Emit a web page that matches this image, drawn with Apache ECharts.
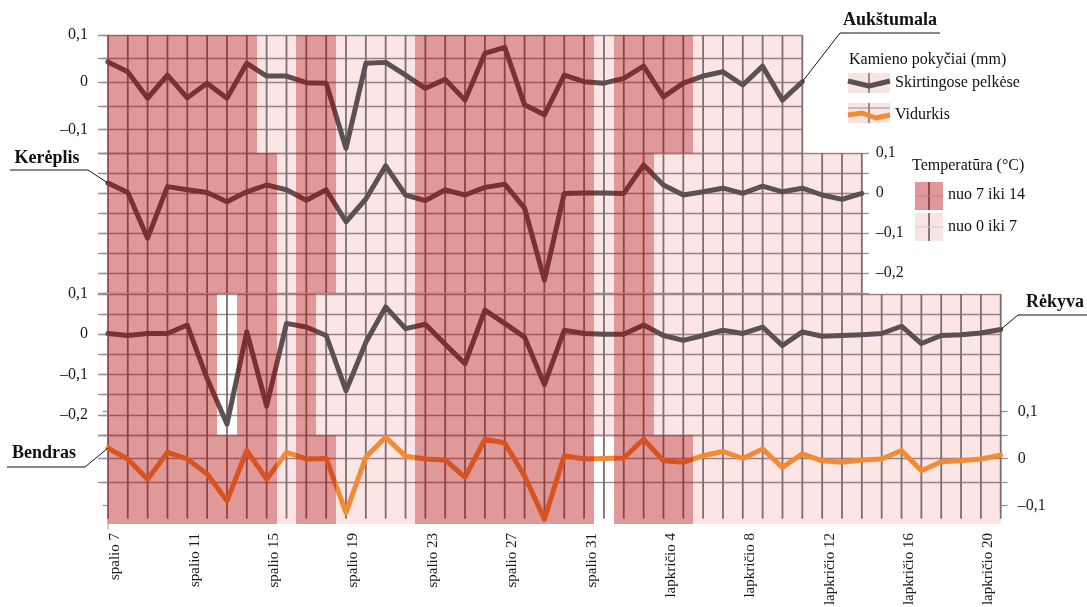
<!DOCTYPE html>
<html><head><meta charset="utf-8">
<script src="https://cdn.jsdelivr.net/npm/echarts@6/dist/echarts.min.js"></script>
<style>html,body{margin:0;padding:0;background:#fff}#c{width:1087px;height:607px}</style>
</head><body><div id="c"></div>
<script>
// ---- data ----
const days = [];
for (let d = 7; d <= 31; d++) days.push('spalio ' + d);
for (let d = 1; d <= 21; d++) days.push('lapkričio ' + d);
const tickDays = [0, 4, 8, 12, 16, 20, 24, 28, 32, 36, 40, 44];

const aukstumala = [0.043, 0.022, -0.034, 0.015, -0.033, -0.002, -0.034, 0.040, 0.013, 0.013, -0.001, -0.002, -0.140, 0.040, 0.042, 0.015, -0.013, 0.006, -0.038, 0.061, 0.074, -0.048, -0.069, 0.015, 0.001, -0.002, 0.008, 0.034, -0.031, -0.002, 0.013, 0.022, -0.006, 0.034, -0.038, 0.001];
const kereplis = [0.025, 0.001, -0.113, 0.016, 0.008, 0.001, -0.022, 0.003, 0.020, 0.008, -0.018, 0.008, -0.072, -0.015, 0.068, -0.005, -0.019, 0.008, -0.005, 0.014, 0.022, -0.038, -0.218, -0.001, 0, 0, -0.001, 0.070, 0.020, -0.005, 0.003, 0.012, -0.001, 0.017, 0.003, 0.012, -0.005, -0.016, -0.001];
const rekyva = [0.002, -0.003, 0.002, 0.002, 0.023, -0.110, -0.223, 0.006, -0.178, 0.027, 0.018, -0.003, -0.140, -0.020, 0.068, 0.014, 0.025, -0.025, -0.073, 0.060, 0.027, -0.007, -0.125, 0.010, 0.002, 0, 0, 0.023, -0.003, -0.015, -0.003, 0.010, 0.002, 0.018, -0.028, 0.006, -0.005, -0.003, -0.001, 0.002, 0.020, -0.023, -0.003, -0.001, 0.003, 0.012];
const bendras = [0.022, -0.001, -0.044, 0.013, -0.001, -0.033, -0.090, 0.017, -0.044, 0.013, -0.001, 0, -0.115, 0.003, 0.045, 0.005, -0.001, -0.003, -0.040, 0.041, 0.033, -0.037, -0.129, 0.006, -0.001, 0, 0.001, 0.041, -0.005, -0.008, 0.006, 0.015, 0, 0.020, -0.019, 0.010, -0.005, -0.008, -0.003, -0.001, 0.017, -0.026, -0.007, -0.005, -0.001, 0.007];

// temperature class per day: 2 = 7..14 °C, 1 = 0..7 °C, 0 = none
const aukstumalaTemp = [2,2,2,2,2,2,2,2, 1,1, 2,2, 1,1,1,1, 2,2,2,2,2,2,2,2,2, 1, 2,2,2,2, 1,1,1,1,1,1];
const kereplisTemp   = [2,2,2,2,2,2,2,2,2, 1, 2,2, 1,1,1,1, 2,2,2,2,2,2,2,2,2, 1, 2,2, 1,1,1,1,1,1,1,1,1,1,1];
const rekyvaTemp     = [2,2,2,2,2,2, 0, 2,2, 1, 2, 1,1,1,1,1, 2,2,2,2,2,2,2,2,2, 1, 2,2, 1,1,1,1,1,1,1,1,1,1,1,1,1,1,1,1,1,1];
const bendrasTemp    = [2,2,2,2,2,2,2,2,2, 1, 2,2, 1,1,1,1, 2,2,2,2,2,2,2,2,2, 0, 2,2,2,2, 1,1,1,1,1,1,1,1,1,1,1,1,1,1,1,1];

// ---- layout / style ----
const S = 19.84, L = 98;
const FONT = '"Liberation Serif", "DejaVu Serif", serif';
const DARK = 'rgba(178,0,0,0.40)', LIGHT = 'rgba(215,0,0,0.10)';
const VGRID = '#7a6f71', HGRID = '#9a8f91', AXIS = '#c6bebf';
const panels = [
  {data: aukstumala, temp: aukstumalaTemp, color: '#5b5053', top: 35,    min: -0.15, max: 0.1, ppu: 472,    bandTop: 0.1,  bandBottom: -0.15, lineBottom: -0.15, side: 'left',  rMargin: 14},
  {data: kereplis,   temp: kereplisTemp,   color: '#5b5053', top: 153,   min: -0.25, max: 0.1, ppu: 400,    bandTop: 0.1,  bandBottom: -0.25, lineBottom: -0.25, side: 'right', rMargin: 14},
  {data: rekyva,     temp: rekyvaTemp,     color: '#5b5053', top: 294,   min: -0.25, max: 0.1, ppu: 402.86, bandTop: 0.1,  bandBottom: -0.25, lineBottom: -0.25, side: 'left',  rMargin: 14},
  {data: bendras,    temp: bendrasTemp,    color: '#f28a36', top: 411.5, min: -0.15, max: 0.1, ppu: 470,    bandTop: 0.05, bandBottom: -0.14, lineBottom: -0.128, side: 'right', rMargin: 17,
   ticks: [0.1, 0.05, 0, -0.05, -0.1]}
];

function fmt(v) {
  const k = Math.round(v * 20);
  if (k % 2 !== 0) return '';
  const n = Math.round(v * 10);
  if (n === 0) return '0';
  return (n < 0 ? '–' : '') + '0,' + Math.abs(n);
}

const grid = [], xAxis = [], yAxis = [], series = [];
panels.forEach((p, k) => {
  const last = p.data.length - 1;
  grid.push({left: L, top: p.top, width: (last + 0.5) * S, height: (p.max - p.min) * p.ppu, containLabel: false, outerBoundsMode: 'none'});
  xAxis.push({
    type: 'value', gridIndex: k, min: -0.5, max: last, show: k === 3,
    axisLine: {show: false}, axisTick: {show: false}, splitLine: {show: false},
    axisLabel: {show: k === 3, customValues: tickDays, rotate: 90, margin: 4, verticalAlign: 'top',
      formatter: v => days[Math.round(v)] || '', fontFamily: FONT, fontSize: 15, color: '#1a1a1a'}
  });
  const tickL = {show: true, length: 5, lineStyle: {color: HGRID, width: 1.3}};
  const tickR = {show: p.side === 'right', length: 7, lineStyle: {color: HGRID, width: 1.3}};
  if (p.ticks) { tickL.customValues = p.ticks; tickR.customValues = p.ticks; }
  yAxis.push({
    type: 'value', gridIndex: k, position: 'left', min: p.min, max: p.max, interval: 0.05,
    axisLine: {show: true, lineStyle: {color: AXIS, width: 1.5}},
    axisTick: tickL,
    axisLabel: {show: p.side === 'left', formatter: fmt, margin: 10, fontFamily: FONT, fontSize: 16, color: '#1a1a1a'},
    splitLine: {show: true, showMinLine: k !== 3, showMaxLine: k !== 3, lineStyle: {color: HGRID, width: 1.3}}
  });
  yAxis.push({
    type: 'value', gridIndex: k, position: 'right', min: p.min, max: p.max, interval: 0.05,
    axisLine: {show: false},
    axisTick: tickR,
    axisLabel: {show: p.side === 'right', formatter: fmt, margin: p.rMargin, align: 'left', fontFamily: FONT, fontSize: 16, color: '#1a1a1a'},
    splitLine: {show: false}
  });
  const td = p.temp.map((t, i) => [i, t]);
  const band = level => (params, api) => {
    const d = api.value(0), t = api.value(1);
    if (t !== level) return null;
    const a = api.coord([Math.max(d - 0.5, 0), p.bandTop]);
    const b = api.coord([Math.min(d + 0.5, last), p.bandBottom]);
    const x0 = Math.round(a[0]), x1 = Math.round(b[0]), y0 = Math.round(a[1]), y1 = Math.round(b[1]);
    return {type: 'rect', shape: {x: x0, y: y0, width: x1 - x0, height: y1 - y0}, style: {fill: level === 2 ? DARK : LIGHT}};
  };
  // light temperature bands (below lines)
  series.push({type: 'custom', xAxisIndex: k, yAxisIndex: 2 * k, z: 1, silent: true, data: td, renderItem: band(1)});
  // vertical day grid lines
  series.push({
    type: 'custom', xAxisIndex: k, yAxisIndex: 2 * k, z: 1, silent: true, data: td,
    renderItem: (params, api) => {
      const d = api.value(0);
      const a = api.coord([d, p.bandTop]), b = api.coord([d, p.lineBottom]);
      return {type: 'line', shape: {x1: a[0], y1: a[1], x2: b[0], y2: b[1]}, style: {stroke: VGRID, lineWidth: 1.8}};
    }
  });
  // measured line
  series.push({
    type: 'line', xAxisIndex: k, yAxisIndex: 2 * k, z: 2, symbol: 'none', silent: true,
    data: p.data.map((v, i) => [i, v]),
    lineStyle: {color: p.color, width: 5, join: 'round', cap: 'round'}
  });
  // warm temperature bands (semi-transparent overlay above lines)
  series.push({type: 'custom', xAxisIndex: k, yAxisIndex: 2 * k, z: 3, silent: true, data: td, renderItem: band(2)});
});

const chart = echarts.init(document.getElementById('c'));
chart.setOption({animation: false, backgroundColor: '#fff', grid, xAxis, yAxis, series});

// ---- annotations & legend ----
function px(k, i) { return chart.convertToPixel({xAxisIndex: k, yAxisIndex: 2 * k}, [i, panels[k].data[i]]); }
const txt = (text, x, y, size, bold, align) => ({type: 'text', z: 100, silent: true,
  style: {text, x, y, fill: '#111', textAlign: align || 'left', textVerticalAlign: 'middle',
    font: (bold ? 'bold ' : '') + size + 'px ' + FONT}});
const pl = (points, stroke, w) => ({type: 'polyline', z: 100, silent: true, shape: {points}, style: {stroke, lineWidth: w, fill: null, lineJoin: 'round'}});
const rc = (x, y, w, h, fill) => ({type: 'rect', z: 99, silent: true, shape: {x, y, width: w, height: h}, style: {fill}});

const pA = px(0, aukstumala.length - 1), pK = px(1, 0), pR = px(2, rekyva.length - 1), pB = px(3, 0);
const graphic = [
  txt('Aukštumala', 890, 20, 18, true, 'center'), pl([[940, 33], [840, 33], pA], '#111', 1),
  txt('Kerėplis', 47, 158, 18, true, 'center'), pl([[10, 170], [88, 170], pK], '#111', 1),
  txt('Rėkyva', 1055, 302, 18, true, 'center'), pl([[1087, 315], [1018, 315], pR], '#111', 1),
  txt('Bendras', 44, 453, 18, true, 'center'), pl([[7, 467], [85, 467], pB], '#111', 1),

  txt('Kamieno pokyčiai (mm)', 849, 60, 16, false),
  rc(848, 73, 42, 20, '#f9e4e4'), pl([[869, 73], [869, 93]], VGRID, 1.5), pl([[848, 81], [869, 86], [890, 81]], '#5b5053', 5),
  txt('Skirtingose pelkėse', 895, 83, 16, false),
  rc(848, 103, 42, 20, '#f9e4e4'), pl([[869, 103], [869, 123]], VGRID, 1.5), pl([[848, 108], [890, 108]], HGRID, 1),
  pl([[848, 115], [862, 113], [876, 118], [890, 115]], '#f28a36', 5),
  txt('Vidurkis', 895, 115, 16, false),

  txt('Temperatūra (°C)', 912, 166, 16, false),
  rc(915, 182, 28, 28, '#e0999b'), pl([[929, 182], [929, 210]], '#8e3c43', 1.8), pl([[915, 196], [943, 196]], '#c77f84', 1),
  txt('nuo 7 iki 14', 948, 195, 16, false),
  rc(915, 213, 28, 28, '#f9e4e4'), pl([[929, 213], [929, 241]], VGRID, 1.8), pl([[915, 227], [943, 227]], '#d9cccd', 1),
  txt('nuo 0 iki 7', 948, 227, 16, false)
];
chart.setOption({graphic});
</script>
</body></html>
